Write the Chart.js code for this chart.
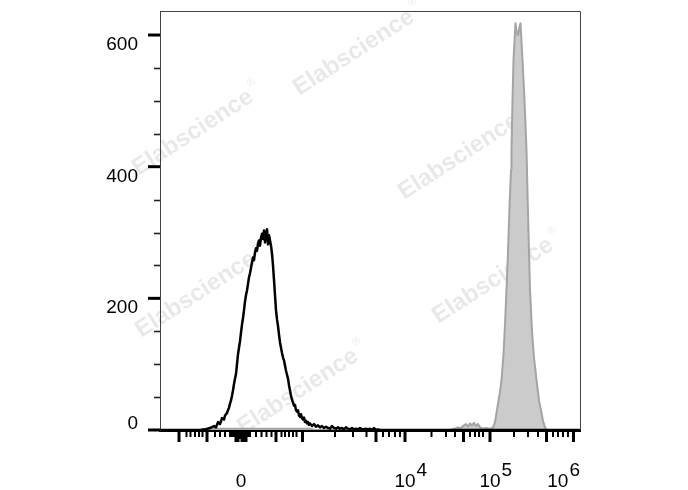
<!DOCTYPE html>
<html>
<head>
<meta charset="utf-8">
<script src="https://cdn.jsdelivr.net/npm/chart.js"></script>
<style>
  html, body { margin: 0; padding: 0; background: #fff; }
  #wrap { width: 688px; height: 490px; position: relative; }
</style>
</head>
<body>
<div id="wrap"><canvas id="histChart"></canvas></div>
<script>
// x = display channel on the biexponential axis (0-840), y = event count

// unstained / control (black line)
const blackChannel = [
  0, 70, 80, 90, 100, 108, 112, 116, 120, 124,
  128, 130, 134, 136, 138, 140, 142, 144, 146, 148,
  150, 152, 154, 156, 158, 160, 162, 164, 166, 168,
  170, 172, 174, 176, 178, 180, 182, 184, 186, 188,
  190, 192, 194, 196, 198, 200, 202, 204, 206, 208,
  210, 212, 214, 216, 218, 220, 222, 224, 226, 228,
  230, 232, 234, 236, 238, 240, 242, 244, 246, 248,
  250, 252, 254, 256, 258, 260, 262, 264, 266, 268,
  270, 272, 274, 276, 278, 280, 282, 284, 286, 288,
  290, 292, 294, 296, 298, 300, 304, 308, 312, 316,
  320, 324, 328, 332, 336, 340, 344, 348, 352, 356,
  360, 364, 368, 372, 376, 380, 384, 388, 392, 396,
  400, 404, 408, 412, 416, 420, 424, 428, 432, 436,
  440, 840
];
const blackCount = [
  0, 0, 0, 1, 3, 6, 4, 12, 9, 18,
  16, 22, 26, 30, 34, 40, 45, 52, 60, 70,
  78, 85, 100, 115, 125, 135, 148, 160, 170, 182,
  195, 205, 212, 222, 232, 238, 246, 255, 262, 258,
  270, 276, 272, 283, 288, 280, 292, 298, 290, 303,
  285, 298, 305, 282, 296, 288, 280, 268, 250, 228,
  205, 182, 168, 158, 145, 133, 125, 117, 110, 106,
  98, 90, 84, 78, 68, 60, 52, 46, 42, 37,
  38, 30, 28, 30, 22, 20, 24, 18, 16, 19,
  12, 14, 10, 12, 8, 10, 6, 9, 5, 7,
  4, 6, 3, 5, 3, 2, 6, 3, 2, 4,
  2, 3, 1, 4, 2, 1, 3, 1, 2, 1,
  3, 1, 1, 2, 1, 2, 0, 3, 0, 1,
  0, 0
];

// stained sample (gray filled)
const grayChannel = [
  0, 100, 110, 300, 310, 580, 590, 596, 600, 606,
  612, 616, 620, 624, 628, 632, 636, 640, 646, 652,
  658, 664, 666, 670, 673, 676, 680, 683, 687, 690,
  693, 696, 699, 702, 703, 705, 707, 709, 711, 713,
  716, 718, 721, 723, 725, 729, 733, 735, 737, 740,
  744, 748, 753, 758, 763, 766, 770, 774, 840
];
const grayCount = [
  0, 0, 2, 2, 0, 0, 2, 4, 2, 6,
  9, 5, 10, 7, 11, 6, 9, 4, 2, 3,
  2, 3, 4, 12, 26, 40, 58, 76, 115, 160,
  213, 270, 340, 395, 425, 501, 562, 590, 618, 605,
  600, 608, 618, 590, 562, 501, 425, 360, 300, 213,
  150, 110, 76, 45, 26, 14, 4, 0, 0
];

// axes
const yMajorTicks = [0, 200, 400, 600];
const yMinorTicks = [50, 100, 150, 250, 300, 350, 450, 500, 550];
const xMajorTicks = [38, 94, 152, 156, 164, 168, 172, 232, 285, 432, 490, 607, 660, 773, 827];
const xMidTicks = [160];
const xMinorTicks = [53, 61, 70, 78, 85, 110, 120, 130, 140, 144, 148, 176, 180,
  192, 203, 213, 223, 243, 250, 258, 266, 273, 350, 386, 413, 446, 458, 470, 480,
  543, 572, 590, 620, 630, 638, 646, 708, 736, 756, 786, 796, 806, 816];
const xLabelChannels = [162, 490, 660, 827];
const xLabelBase = ['0', '10', '10', '10'];
const xLabelSup = ['', '4', '5', '6'];

const FONT = '"Liberation Sans", Arial, sans-serif';

const decor = {
  id: 'decor',
  beforeDatasetsDraw(chart) {
    const ctx = chart.ctx;
    const marks = [[358, 50], [197, 130], [463, 154], [200, 292], [497, 278], [302, 389]];
    ctx.save();
    ctx.fillStyle = 'rgba(0,0,0,0.09)';
    marks.forEach(([cx, cy]) => {
      ctx.save();
      ctx.translate(cx, cy);
      ctx.rotate(-33 * Math.PI / 180);
      ctx.font = 'bold 24px ' + FONT;
      ctx.textAlign = 'center';
      ctx.textBaseline = 'middle';
      const w = ctx.measureText('Elabscience').width;
      ctx.fillText('Elabscience', -5, 0);
      ctx.font = '11px ' + FONT;
      ctx.textAlign = 'left';
      ctx.fillText('®', w / 2 - 2, -10);
      ctx.restore();
    });
    ctx.restore();
  },
  afterDraw(chart) {
    const {ctx, chartArea: a, scales: {x, y}} = chart;
    ctx.save();
    // frame top / right
    ctx.strokeStyle = '#444';
    ctx.lineWidth = 1;
    ctx.beginPath();
    ctx.moveTo(a.left, a.top + 0.5);
    ctx.lineTo(a.right + 0.5, a.top + 0.5);
    ctx.lineTo(a.right + 0.5, a.bottom);
    ctx.stroke();

    const line = (x0, y0, x1, y1, w) => {
      ctx.lineWidth = w;
      ctx.beginPath();
      ctx.moveTo(x0, y0);
      ctx.lineTo(x1, y1);
      ctx.stroke();
    };
    ctx.strokeStyle = '#000';

    // y ticks
    yMajorTicks.forEach(v => {
      const py = y.getPixelForValue(v);
      line(a.left - 12, py, a.left, py, 3);
    });
    ctx.strokeStyle = '#222';
    yMinorTicks.forEach(v => {
      const py = Math.round(y.getPixelForValue(v)) + 0.5;
      line(a.left - 6, py, a.left, py, 1.6);
    });

    // x ticks
    ctx.strokeStyle = '#000';
    xMajorTicks.forEach(v => {
      const px = x.getPixelForValue(v);
      line(px, a.bottom, px, a.bottom + 12, 3);
    });
    xMidTicks.forEach(v => {
      const px = x.getPixelForValue(v);
      line(px, a.bottom, px, a.bottom + 9, 3);
    });
    xMinorTicks.forEach(v => {
      const px = x.getPixelForValue(v);
      line(px, a.bottom, px, a.bottom + 7, 2);
    });

    // y labels
    ctx.fillStyle = '#000';
    ctx.font = '19px ' + FONT;
    ctx.textAlign = 'right';
    ctx.textBaseline = 'alphabetic';
    yMajorTicks.forEach(v => {
      const py = y.getPixelForValue(v);
      const base = v === 0 ? py - 1.5 : py + 15;
      ctx.fillText(String(v), a.left - 22, base);
    });

    // x labels
    ctx.textAlign = 'left';
    xLabelChannels.forEach((v, i) => {
      const px = x.getPixelForValue(v);
      const bw = ctx.measureText(xLabelBase[i]).width;
      const sw = xLabelSup[i] ? ctx.measureText(xLabelSup[i]).width : 0;
      let left = px - bw / 2;
      if (left + bw + sw > a.right - 1) left = a.right - 1 - bw - sw;
      ctx.fillText(xLabelBase[i], left, 487);
      if (xLabelSup[i]) ctx.fillText(xLabelSup[i], left + bw + 1, 476);
    });
    ctx.restore();
  }
};

const toPoints = (xs, ys) => xs.map((v, i) => ({x: v, y: ys[i]}));

new Chart(document.getElementById('histChart'), {
  type: 'line',
  data: {
    datasets: [
      {
        label: 'Control',
        data: toPoints(blackChannel, blackCount),
        borderColor: '#000',
        borderWidth: 2.5,
        borderJoinStyle: 'round',
        fill: false,
        pointRadius: 0,
        tension: 0
      },
      {
        label: 'Stained',
        data: toPoints(grayChannel, grayCount),
        borderColor: '#a4a4a4',
        backgroundColor: '#cbcbcb',
        borderWidth: 2,
        borderJoinStyle: 'round',
        fill: 'origin',
        pointRadius: 0,
        tension: 0
      }
    ]
  },
  options: {
    responsive: true,
    maintainAspectRatio: false,
    animation: false,
    layout: { padding: { top: 11, right: 108, left: 0, bottom: 0 } },
    plugins: { legend: { display: false }, tooltip: { enabled: false } },
    scales: {
      x: {
        type: 'linear',
        min: 0,
        max: 840,
        grid: { display: false },
        ticks: { display: false },
        border: { display: true, color: '#000', width: 3 },
        afterFit: s => { s.height = 60; }
      },
      y: {
        min: 0,
        max: 636.5,
        grid: { display: false },
        ticks: { display: false },
        border: { display: true, color: '#444', width: 1 },
        afterFit: s => { s.width = 160; }
      }
    }
  },
  plugins: [decor]
});
</script>
</body>
</html>
